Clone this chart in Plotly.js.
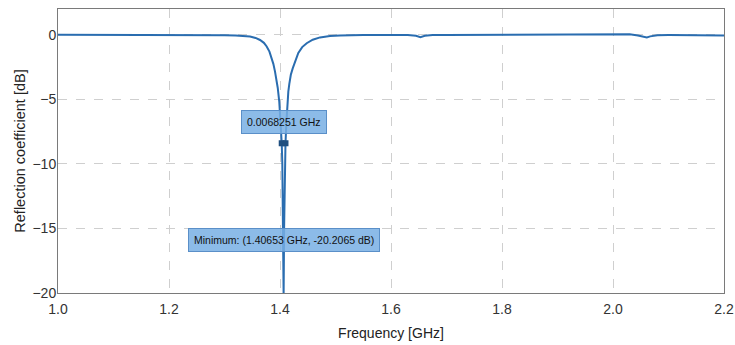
<!DOCTYPE html>
<html>
<head>
<meta charset="utf-8">
<script src="https://cdn.plot.ly/plotly-3.0.1.min.js"></script>
<style>html,body{margin:0;padding:0;background:#fff;}#chart{width:735px;height:345px;}</style>
</head>
<body>
<div id="chart"></div>
<script>
// Frequency samples [GHz]
const freqGHz = [1.0, 1.05, 1.1, 1.15, 1.2, 1.25, 1.3, 1.32, 1.335, 1.346, 1.356, 1.364, 1.371, 1.376, 1.381, 1.385, 1.388, 1.391, 1.3935, 1.3959, 1.3987, 1.4012, 1.4031, 1.4042, 1.4050, 1.4057, 1.4062, 1.40653, 1.4069, 1.4074, 1.4081, 1.4089, 1.4099, 1.4115, 1.4132, 1.4150, 1.4168, 1.4195, 1.4229, 1.428, 1.433, 1.440, 1.4481, 1.459, 1.4721, 1.49, 1.5081, 1.55, 1.6, 1.63, 1.645, 1.653, 1.661, 1.675, 1.7, 1.75, 1.8, 1.85, 1.9, 1.95, 2.0, 2.03, 2.045, 2.055, 2.061, 2.067, 2.08, 2.1, 2.15, 2.2];
// Reflection coefficient [dB]
const reflDB = [0, 0, -0.01, -0.01, -0.02, -0.03, -0.04, -0.06, -0.09, -0.13, -0.24, -0.4, -0.62, -0.9, -1.3, -1.8, -2.25, -2.85, -3.4, -4.1, -5.2, -6.8, -8.4, -10, -12.3, -15, -18, -20.2065, -18, -15, -12.3, -10, -8.4, -6.8, -5.2, -4.4, -3.8, -3.1, -2.6, -1.95, -1.4, -0.95, -0.65, -0.38, -0.2, -0.1, -0.05, -0.02, -0.01, -0.02, -0.08, -0.18, -0.08, -0.02, -0.01, 0, 0.02, 0.04, 0.06, 0.08, 0.08, 0.04, -0.05, -0.15, -0.2, -0.12, -0.03, -0.02, -0.03, -0.05];

// Bandwidth markers
const bwFreq = [1.4031, 1.4099];
const bwDB = [-8.4, -8.4];
const bwLabel = "0.0068251 GHz";
// Minimum marker
const minFreq = [1.40653];
const minDB = [-20.2065];
const minLabel = "Minimum: (1.40653 GHz, -20.2065 dB)";

const xTicks = [1.0, 1.2, 1.4, 1.6, 1.8, 2.0, 2.2];
const xTickText = ["1.0", "1.2", "1.4", "1.6", "1.8", "2.0", "2.2"];
const yTicks = [0, -5, -10, -15, -20];

const lineColor = "#2a6db0";

const traces = [
  {x: freqGHz, y: reflDB, mode: "lines", line: {color: lineColor, width: 2}, hoverinfo: "skip"},
  {x: bwFreq, y: bwDB, mode: "lines+markers", line: {color: "#1f4f80", width: 2},
   marker: {symbol: "square", size: 6, color: "#1f4f80"}, hoverinfo: "skip"},
  {x: minFreq, y: minDB, mode: "markers", marker: {symbol: "circle", size: 5, color: "#1f4f80"},
   cliponaxis: false, hoverinfo: "skip"}
];

const boxFont = {family: "Liberation Sans", size: 10.5, color: "#111"};
const axFont = "Liberation Sans";

const layout = {
  width: 735, height: 345,
  margin: {l: 58, r: 11, t: 9, b: 52},
  paper_bgcolor: "#fff", plot_bgcolor: "#fff",
  showlegend: false,
  font: {family: axFont, size: 13, color: "#333"},
  xaxis: {
    range: [1.0, 2.2], tickvals: xTicks, ticktext: xTickText,
    showgrid: true, gridcolor: "#cfcfcf", griddash: "dash", gridwidth: 1,
    zeroline: false, showline: true, linecolor: "#7a7a7a", linewidth: 1, mirror: true,
    ticks: "", ticklabelstandoff: 3, tickfont: {family: axFont, size: 14, color: "#333"},
    title: {text: "Frequency [GHz]", font: {family: axFont, size: 14, color: "#222"}, standoff: 12}
  },
  yaxis: {
    range: [-20, 2], tickvals: yTicks,
    showgrid: true, gridcolor: "#cfcfcf", griddash: "dash", gridwidth: 1,
    zeroline: false, showline: true, linecolor: "#7a7a7a", linewidth: 1, mirror: true,
    ticks: "", ticklabelstandoff: -2, tickfont: {family: axFont, size: 14, color: "#333"},
    title: {text: "Reflection coefficient [dB]", font: {family: axFont, size: 14.5, color: "#222"}, standoff: 3}
  },
  annotations: [
    {x: 1.4065, y: -6.75, xref: "x", yref: "y", text: bwLabel, showarrow: false,
     font: boxFont, bgcolor: "rgba(120,175,228,0.85)", bordercolor: "#5a8fc8", borderwidth: 1, borderpad: 5},
    {x: 1.4065, y: -15.93, xref: "x", yref: "y", text: minLabel, showarrow: false,
     font: boxFont, bgcolor: "rgba(120,175,228,0.85)", bordercolor: "#5a8fc8", borderwidth: 1, borderpad: 5}
  ]
};

Plotly.newPlot("chart", traces, layout, {displayModeBar: false, staticPlot: true});
</script>
</body>
</html>
